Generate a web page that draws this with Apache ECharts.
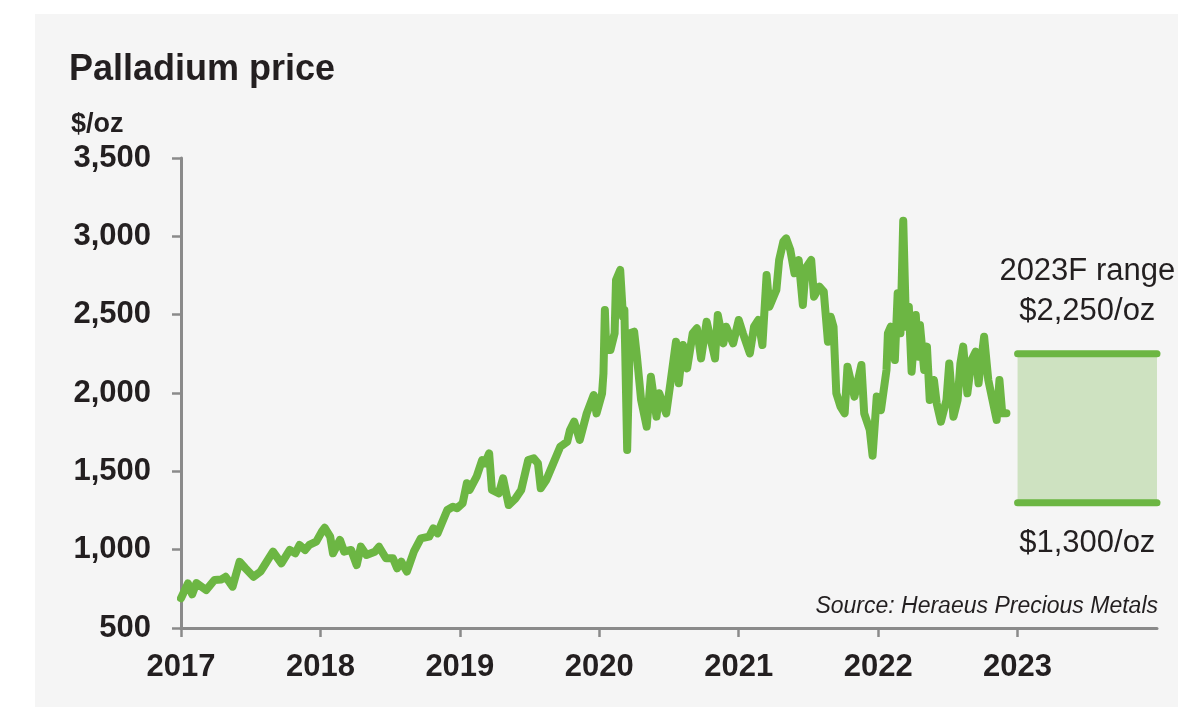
<!DOCTYPE html>
<html>
<head>
<meta charset="utf-8">
<script src="https://cdn.jsdelivr.net/npm/echarts@6/dist/echarts.min.js"></script>
<style>
  html, body { margin: 0; padding: 0; background: #fff; }
  #panel { position: absolute; left: 35px; top: 14px; width: 1143px; height: 693px; background: #f5f5f5; }
  #myChart { position: absolute; left: 0; top: 0; width: 1178px; height: 707px; }
</style>
</head>
<body>
<div id="panel"></div>
<div id="myChart"></div>
<script>
// palladium price (decimal year -> $/oz)
const years = [
  2017.00, 2017.05, 2017.08, 2017.11, 2017.18, 2017.24, 2017.29, 2017.32, 2017.37, 2017.42,
  2017.46, 2017.52, 2017.57, 2017.60, 2017.66, 2017.72, 2017.78, 2017.82, 2017.85, 2017.89,
  2017.92, 2017.97, 2018.01, 2018.03, 2018.07, 2018.09, 2018.14, 2018.17, 2018.22, 2018.26,
  2018.29, 2018.33, 2018.39, 2018.42, 2018.47, 2018.52, 2018.55, 2018.58, 2018.62, 2018.67,
  2018.72, 2018.78, 2018.81, 2018.84, 2018.88, 2018.91, 2018.95, 2018.98, 2019.02, 2019.05,
  2019.07, 2019.12, 2019.16, 2019.18, 2019.21, 2019.23, 2019.28, 2019.31, 2019.35, 2019.40,
  2019.44, 2019.49, 2019.53, 2019.56, 2019.58, 2019.62, 2019.67, 2019.72, 2019.77, 2019.79,
  2019.82, 2019.86, 2019.91, 2019.96, 2019.98, 2020.02, 2020.03, 2020.04, 2020.05, 2020.08,
  2020.11, 2020.12, 2020.15, 2020.17, 2020.18, 2020.20, 2020.22, 2020.25, 2020.27, 2020.30,
  2020.34, 2020.37, 2020.41, 2020.43, 2020.48, 2020.51, 2020.55, 2020.57, 2020.60, 2020.63,
  2020.67, 2020.70, 2020.73, 2020.77, 2020.83, 2020.85, 2020.89, 2020.91, 2020.96, 2021.00,
  2021.03, 2021.08, 2021.11, 2021.14, 2021.17, 2021.20, 2021.22, 2021.27, 2021.29, 2021.32,
  2021.34, 2021.37, 2021.40, 2021.43, 2021.46, 2021.48, 2021.52, 2021.54, 2021.58, 2021.61,
  2021.64, 2021.66, 2021.68, 2021.70, 2021.73, 2021.76, 2021.78, 2021.83, 2021.88, 2021.90,
  2021.94, 2021.96, 2021.99, 2022.02, 2022.06, 2022.07, 2022.09, 2022.12, 2022.14, 2022.16,
  2022.18, 2022.20, 2022.22, 2022.24, 2022.27, 2022.29, 2022.30, 2022.33, 2022.35, 2022.37,
  2022.40, 2022.42, 2022.45, 2022.49, 2022.51, 2022.54, 2022.57, 2022.59, 2022.61, 2022.64,
  2022.67, 2022.70, 2022.72, 2022.76, 2022.79, 2022.82, 2022.85, 2022.87, 2022.89, 2022.92
];
const prices = [
  690, 785, 715, 787, 742, 806, 810, 827, 764, 923,
  883, 827, 860, 902, 987, 913, 998, 977, 1030, 998,
  1030, 1051, 1115, 1140, 1083, 977, 1062, 987, 998, 902,
  1019, 966, 987, 1019, 945, 945, 881, 923, 860, 987,
  1072, 1083, 1136, 1104, 1189, 1253, 1274, 1264, 1296, 1424,
  1381, 1466, 1572, 1551, 1615, 1381, 1360, 1455, 1285, 1328,
  1381, 1572, 1583, 1551, 1392, 1445, 1551, 1657, 1689, 1764,
  1817, 1700, 1870, 1987, 1870, 1998, 2126, 2530, 2274, 2274,
  2381, 2721, 2785, 2487, 2530, 1636, 2381, 2391, 2232, 1955,
  1785, 2104, 1849, 1998, 1870, 2062, 2327, 2062, 2306, 2157,
  2381, 2413, 2221, 2455, 2221, 2498, 2317, 2423, 2317, 2466,
  2381, 2253, 2423, 2466, 2306, 2753, 2551, 2657, 2849, 2966,
  2987, 2913, 2764, 2849, 2562, 2796, 2849, 2615, 2678, 2647,
  2327, 2487, 2423, 1998, 1913, 1870, 2168, 1977, 2179, 1870,
  1764, 1600, 1977, 1891, 2147, 2381, 2423, 2210, 2636, 2381,
  3100, 2423, 2551, 2136, 2498, 2232, 2434, 2147, 2296, 1955,
  2083, 1934, 1817, 1955, 2189, 1849, 1955, 2189, 2296, 1998,
  2210, 2264, 2062, 2359, 2083, 1955, 1828, 2083, 1870, 1870
];
const yearLabels = [2017, 2018, 2019, 2020, 2021, 2022, 2023];
const forecastYears = [2023, 2024];
const forecastLow = 1300;
const forecastHigh = 2250;
const forecastTitle = '2023F range';
const sourceText = 'Source: Heraeus Precious Metals';

const green = '#6cb643';
const axisGray = '#8a8a8a';
const textColor = '#231f20';
const font = '"Liberation Sans", Arial, sans-serif';

function money(v) { return '$' + v.toLocaleString('en-US') + '/oz'; }

var myChart = echarts.init(document.getElementById('myChart'));
myChart.setOption({
  backgroundColor: 'transparent',
  animation: false,
  textStyle: { fontFamily: font, color: textColor },
  title: [
    { text: 'Palladium price', left: 64, top: 47,
      textStyle: { fontSize: 36, fontWeight: 'bold', color: textColor, fontFamily: font } },
    { text: '$/oz', left: 66, top: 106,
      textStyle: { fontSize: 27, fontWeight: 'bold', color: textColor, fontFamily: font } }
  ],
  grid: { left: 181, right: 21, top: 158, bottom: 79 },
  xAxis: {
    type: 'value',
    min: 2017, max: 2024, interval: 1,
    splitLine: { show: false },
    axisLine: { lineStyle: { color: axisGray, width: 3 } },
    axisTick: { show: true, length: 9, lineStyle: { color: axisGray, width: 2.5 }, customValues: yearLabels },
    axisLabel: {
      customValues: yearLabels,
      margin: 24, fontSize: 31, fontWeight: 'bold', color: textColor, fontFamily: font,
      formatter: v => String(v)
    }
  },
  yAxis: {
    type: 'value',
    min: 500, max: 3500, interval: 500,
    splitLine: { show: false },
    axisLine: { show: true, lineStyle: { color: axisGray, width: 3 } },
    axisTick: { show: true, length: 9, lineStyle: { color: axisGray, width: 2.5 } },
    axisLabel: {
      margin: 30, fontSize: 31, fontWeight: 'bold', color: textColor, fontFamily: font,
      formatter: v => v.toLocaleString('en-US')
    }
  },
  series: [
    {
      type: 'line',
      data: years.map((y, i) => [y, prices[i]]),
      showSymbol: false,
      z: 5,
      lineStyle: { color: green, width: 8, join: 'round', cap: 'round' },
      markArea: {
        silent: true,
        itemStyle: { color: '#cee2c1' },
        data: [[{ xAxis: forecastYears[0], yAxis: forecastLow }, { xAxis: forecastYears[1], yAxis: forecastHigh }]]
      }
    },
    {
      type: 'line',
      data: forecastYears.map(y => [y, forecastHigh]),
      showSymbol: false,
      lineStyle: { color: green, width: 7, cap: 'round' }
    },
    {
      type: 'line',
      data: forecastYears.map(y => [y, forecastLow]),
      showSymbol: false,
      lineStyle: { color: green, width: 7, cap: 'round' }
    }
  ]
});

// labels around the forecast box, placed from the axis scale
var midYear = (forecastYears[0] + forecastYears[1]) / 2;
var topPt = myChart.convertToPixel({ gridIndex: 0 }, [midYear, forecastHigh]);
var lowPt = myChart.convertToPixel({ gridIndex: 0 }, [midYear, forecastLow]);
var right = myChart.convertToPixel({ gridIndex: 0 }, [forecastYears[1], 500]);
var txt = { fontSize: 31, fontFamily: font, fill: textColor, textAlign: 'center', textVerticalAlign: 'middle' };
myChart.setOption({
  graphic: [
    { type: 'text', x: topPt[0], y: topPt[1] - 82, style: Object.assign({ text: forecastTitle }, txt) },
    { type: 'text', x: topPt[0], y: topPt[1] - 42, style: Object.assign({ text: money(forecastHigh) }, txt) },
    { type: 'text', x: lowPt[0], y: lowPt[1] + 41, style: Object.assign({ text: money(forecastLow) }, txt) },
    { type: 'text', x: right[0] + 1, y: right[1] - 21,
      style: { text: sourceText, fontSize: 23, fontStyle: 'italic', fontFamily: font, fill: textColor,
               textAlign: 'right', textVerticalAlign: 'middle' } }
  ]
});
</script>
</body>
</html>
